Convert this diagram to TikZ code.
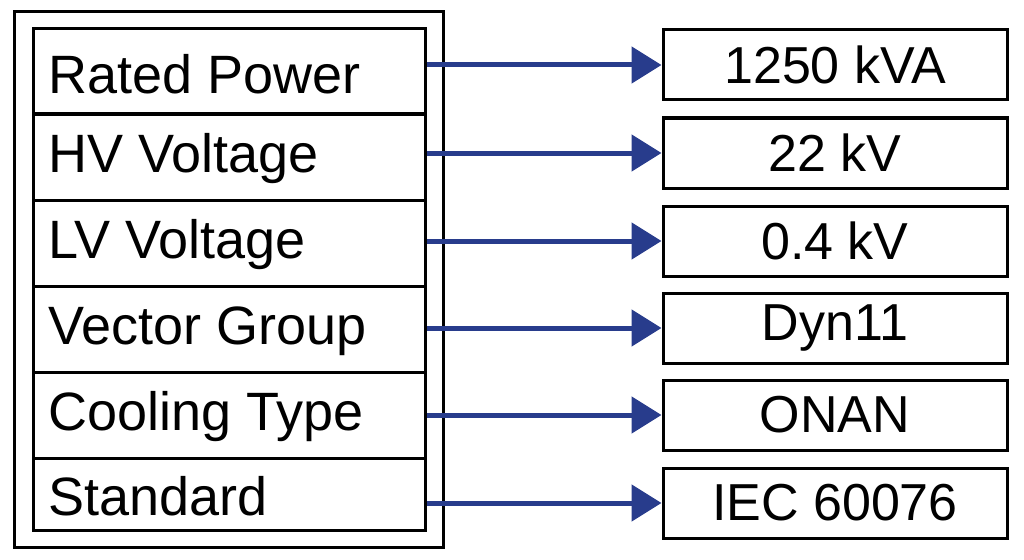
\documentclass[tikz,border=0pt]{standalone}
\usepackage{fontspec}
\setmainfont{Liberation Sans}
\usetikzlibrary{arrows.meta}
\definecolor{arrowblue}{RGB}{40,60,140}
\begin{document}
\begin{tikzpicture}[x=1pt,y=-1pt,
    field/.style={draw, line width=3pt, minimum width=392pt, minimum height=86pt, inner sep=0pt},
    value/.style={draw, line width=3pt, minimum width=344pt, minimum height=70pt, inner sep=0pt, font=\fontsize{52}{52}\selectfont},
    link/.style={line width=5pt, arrowblue, -{Triangle[length=30pt,width=36pt]}}]
    \useasboundingbox (0,0) rectangle (1024,559);
    \node[draw, line width=3pt, minimum width=429pt, minimum height=535pt, inner sep=0pt] (frame) at (228.5,279.5) {};

    \node[field] (f1) at (229,72) {};
    \node[field] (f2) at (229,157) {};
    \node[field] (f3) at (229,243) {};
    \node[field] (f4) at (229,329) {};
    \node[field] (f5) at (229,415) {};
    \node[field, minimum height=72pt] (f6) at (229,494) {};

    \foreach \i/\t in {1/Rated Power,2/HV Voltage,3/LV Voltage,4/Vector Group,5/Cooling Type,6/Standard}
        \node[anchor=west, inner sep=0pt, font=\fontsize{54}{54}\selectfont] at ([xshift=17pt,yshift=-2pt]f\i.west) {\t};

    \node[value] (v1) at (835,65) {1250 kVA};
    \node[value] (v2) at (835,153) {22 kV};
    \node[value] (v3) at (835,241) {0.4 kV};
    \node[value] (v4) at (835,328) {Dyn11};
    \node[value] (v5) at (835,415) {ONAN};
    \node[value] (v6) at (835,503) {IEC 60076};

    \foreach \i in {1,...,6}
        \draw[link] (f\i.east |- v\i.west) -- (v\i.west);
\end{tikzpicture}
\end{document}
